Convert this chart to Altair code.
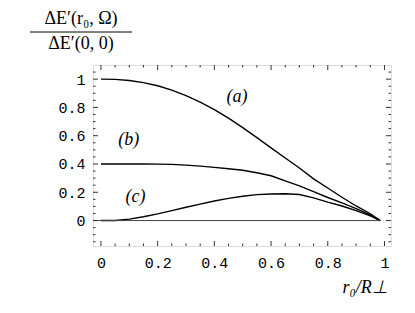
import altair as alt
import pandas as pd

# ---- data ----
r0 = [0, .05, .1, .15, .2, .25, .3, .35, .4, .45, .5, .55, .6, .65, .7, .75, .8, .85, .9, .95, .985]
curve_a = [1.0, .998, .99, .975, .953, .922, .884, .838, .785, .724, .657, .586, .514, .442, .372, .295, .23, .165, .103, .048, 0]
curve_b = [.4, .4, .4, .4, .399, .397, .392, .385, .376, .366, .356, .338, .317, .28, .245, .205, .163, .125, .085, .04, 0]
curve_c = [0, 0, .01, .027, .047, .07, .094, .116, .138, .157, .172, .183, .188, .189, .184, .16, .13, .103, .07, .033, 0]

curve_labels = ["(a)", "(b)", "(c)"]
label_x = [0.48, 0.098, 0.122]
label_y = [0.875, 0.569, 0.168]

zero_x = [-0.028, 0.985]
zero_y = [0, 0]

tick_labels = [0, 0.2, 0.4, 0.6, 0.8, 1]
x_minor = [0.05, 0.1, 0.15, 0.25, 0.3, 0.35, 0.45, 0.5, 0.55, 0.65, 0.7, 0.75, 0.85, 0.9, 0.95]
y_minor = [-0.15, -0.1, -0.05, 0.05, 0.1, 0.15, 0.25, 0.3, 0.35, 0.45, 0.5, 0.55,
           0.65, 0.7, 0.75, 0.85, 0.9, 0.95, 1.05]

W, H = 298, 181
xs = alt.Scale(domain=[-0.028, 1.023], nice=False, zero=False)
ys = alt.Scale(domain=[-0.18, 1.1], nice=False, zero=False)

x_axis = alt.Axis(values=tick_labels, format=".1~f", title=None,
                  ticks=False, domain=False, grid=False,
                  labelFont="Liberation Mono", labelFontSize=15,
                  labelColor="black", labelPadding=9)
y_axis = alt.Axis(values=tick_labels, format=".1~f", title=None,
                  ticks=False, domain=False, grid=False,
                  labelFont="Liberation Mono", labelFontSize=15,
                  labelColor="black", labelPadding=8)

def X(f):
    return alt.X(f, scale=xs, axis=x_axis, title=None)

def Y(f):
    return alt.Y(f, scale=ys, axis=y_axis, title=None)

rows = []
for name, vals in zip(["a", "b", "c"], [curve_a, curve_b, curve_c]):
    for xv, yv in zip(r0, vals):
        rows.append({"s": name, "x": xv, "y": yv})
df = pd.DataFrame(rows)

curves = alt.Chart(df).mark_line(color="black", strokeWidth=1.4).encode(
    x=X("x:Q"), y=Y("y:Q"), detail="s:N")

zero = alt.Chart(pd.DataFrame({"x": zero_x, "y": zero_y})).mark_line(
    color="#444", strokeWidth=1).encode(x=X("x:Q"), y=Y("y:Q"))

labels = alt.Chart(pd.DataFrame({"t": curve_labels, "x": label_x, "y": label_y})).mark_text(
    font="Liberation Serif", fontSize=18, fontStyle="italic", color="black").encode(
    x=X("x:Q"), y=Y("y:Q"), text="t:N")

major_df = pd.DataFrame({"v": tick_labels})
xminor_df = pd.DataFrame({"v": x_minor})
yminor_df = pd.DataFrame({"v": y_minor})

def xt(d, top, ln):
    if top:
        return alt.Chart(d).mark_rule(color="#333", strokeWidth=1).encode(
            x=X("v:Q"), y=alt.value(0), y2=alt.value(ln))
    return alt.Chart(d).mark_rule(color="#333", strokeWidth=1).encode(
        x=X("v:Q"), y=alt.value(H), y2=alt.value(H - ln))

def yt(d, right, ln):
    if right:
        return alt.Chart(d).mark_rule(color="#333", strokeWidth=1).encode(
            y=Y("v:Q"), x=alt.value(W), x2=alt.value(W - ln))
    return alt.Chart(d).mark_rule(color="#333", strokeWidth=1).encode(
        y=Y("v:Q"), x=alt.value(0), x2=alt.value(ln))

ticks = [xt(major_df, False, 5), xt(xminor_df, False, 2.5),
         xt(major_df, True, 5), xt(xminor_df, True, 2.5),
         yt(major_df, False, 5), yt(yminor_df, False, 2.5),
         yt(major_df, True, 5), yt(yminor_df, True, 2.5)]

serif = "Liberation Serif"
num = alt.Chart(pd.DataFrame({"t": ["ΔE′(r₀, Ω)"]})).mark_text(
    font=serif, fontSize=18, color="black", baseline="alphabetic").encode(
    text="t:N", x=alt.value(-12), y=alt.value(-41))
den = alt.Chart(pd.DataFrame({"t": ["ΔE′(0, 0)"]})).mark_text(
    font=serif, fontSize=18, color="black", baseline="alphabetic").encode(
    text="t:N", x=alt.value(-12), y=alt.value(-16))
bar = alt.Chart(pd.DataFrame({"t": ["frac"]})).mark_rule(color="black", strokeWidth=1).encode(
    x=alt.value(-63), x2=alt.value(39), y=alt.value(-33))
xtitle = alt.Chart(pd.DataFrame({"t": ["r₀/R⊥"]})).mark_text(
    font=serif, fontSize=18, fontStyle="italic", color="black", baseline="alphabetic").encode(
    text="t:N", x=alt.value(272), y=alt.value(228))

chart = alt.layer(curves, zero, labels, *ticks, num, den, bar, xtitle).properties(
    width=W, height=H,
    autosize=alt.AutoSizeParams(type="none"),
    padding={"left": 85, "top": 57, "right": 16, "bottom": 59},
).configure_view(stroke="#333", strokeWidth=1).configure(background="white")

chart.save("out.html", embed_options={"renderer": "svg", "actions": False})
